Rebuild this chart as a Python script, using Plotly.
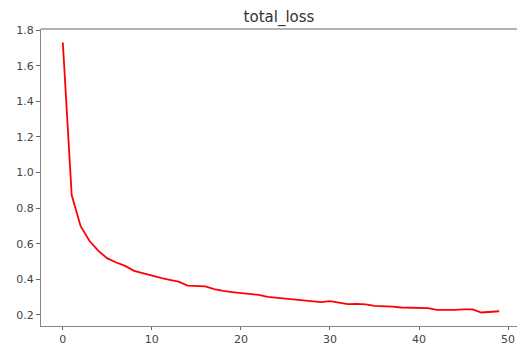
import plotly.graph_objects as go

epochs = list(range(50))
total_loss = [1.731, 0.872, 0.698, 0.615, 0.559, 0.517, 0.494, 0.475, 0.447, 0.433,
              0.421, 0.408, 0.397, 0.386, 0.364, 0.364, 0.360, 0.345, 0.334, 0.328,
              0.324, 0.319, 0.312, 0.301, 0.296, 0.293, 0.290, 0.284, 0.280, 0.271,
              0.277, 0.267, 0.260, 0.261, 0.259, 0.250, 0.250, 0.246, 0.241, 0.239,
              0.239, 0.238, 0.228, 0.226, 0.228, 0.230, 0.230, 0.213, 0.217, 0.220]
x_ticks = [0, 10, 20, 30, 40, 50]
y_ticks = [0.2, 0.4, 0.6, 0.8, 1.0, 1.2, 1.4, 1.6, 1.8]
title_text = "total_loss"

fig = go.Figure()
fig.add_trace(go.Scatter(x=epochs, y=total_loss, mode="lines",
                         line=dict(color="#ff0000", width=1.8), showlegend=False))

axis_font = dict(family="DejaVu Sans", size=11, color="#444444")
fig.update_layout(
    width=517, height=347,
    margin=dict(l=41, r=0, t=29, b=21, autoexpand=False),
    paper_bgcolor="white", plot_bgcolor="white",
    title=dict(text=title_text, x=0.5, xref="paper", xanchor="center",
               y=1 - 17 / 347, yref="container", yanchor="middle", automargin=False,
               font=dict(family="DejaVu Sans", size=15, color="#333333")),
    xaxis=dict(range=[-2.45, 51.0], tickvals=x_ticks, showgrid=False, zeroline=False,
               automargin=False,
               showline=True, linecolor="#888888", linewidth=1.3,
               ticks="outside", ticklen=3, tickcolor="#666666", tickwidth=1,
               tickfont=axis_font),
    yaxis=dict(range=[0.137, 1.807], tickvals=y_ticks, tickformat=".1f",
               showgrid=False, zeroline=False, automargin=False,
               showline=True, linecolor="#888888", linewidth=1.3,
               ticks="outside", ticklen=4, tickcolor="#666666", tickwidth=1,
               tickfont=axis_font),
    shapes=[dict(type="line", xref="paper", yref="paper", x0=0, x1=1, y0=1, y1=1,
                 line=dict(color="#999999", width=1.3))],
)

fig.write_html("out.html")
